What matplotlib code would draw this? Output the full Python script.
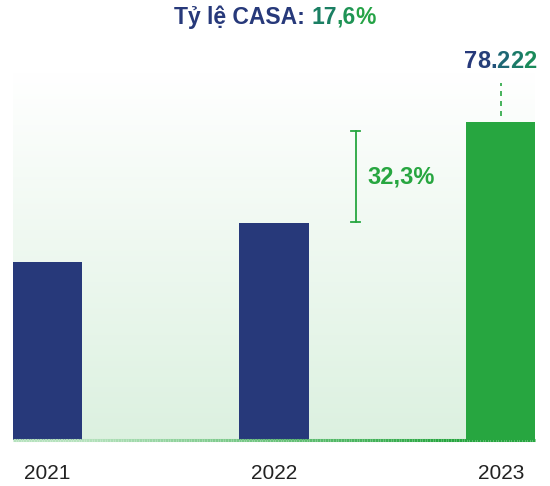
import numpy as np
import matplotlib.pyplot as plt
from matplotlib.colors import LinearSegmentedColormap, to_rgb
from matplotlib.collections import LineCollection
from matplotlib.offsetbox import TextArea, HPacker, AnchoredOffsetbox

years = ['2021', '2022', '2023']
casa = [43800, 53400, 78222]   # ty dong
bar_colors = ['#27397a', '#27397a', '#27a640']
growth_label = '32,3%'
total_label = '78.222'

navy = '#27397a'
green = '#27a640'

fig = plt.figure(figsize=(5.5, 4.86), dpi=100)
ax = fig.add_axes([13 / 550, 46 / 486, 522 / 550, 368 / 486])
ax.set_xlim(-0.15, 2.15)
ax.set_ylim(0, 90500)

# soft green gradient background (white at top)
cmap = LinearSegmentedColormap.from_list('bg', ['#ffffff', '#dcf1e0'])
grad = np.linspace(0, 1, 256).reshape(-1, 1)
ax.imshow(grad, cmap=cmap, aspect='auto', extent=(-0.15, 2.15, 0, 90500),
          zorder=0)

x = np.arange(len(years))
ax.bar(x, casa, width=0.305, color=bar_colors, zorder=2)

# baseline with gradient
xs = np.linspace(-0.15, 2.15, 200)
segs = [[(xs[i], 0), (xs[i + 1], 0)] for i in range(len(xs) - 1)]
c0, c1 = np.array(to_rgb('#b5e2bd')), np.array(to_rgb(green))
t = np.clip((xs[:-1] - 0.15) / 1.6, 0, 1)
cols = [tuple(c0 + (c1 - c0) * v) for v in t]
lc = LineCollection(segs, colors=cols, linewidths=2.2, zorder=3, clip_on=False)
ax.add_collection(lc)

# growth bracket between 2022 and 2023
bx = 1.36
ax.plot([bx, bx], [casa[1] + 200, casa[2] - 2300], color=green, lw=1.3, zorder=3)
for yv in [casa[1] + 200, casa[2] - 2300]:
    ax.plot([bx - 0.02, bx + 0.02], [yv, yv], color=green, lw=1.3, zorder=3)
ax.text(bx + 0.05, (casa[1] + casa[2]) / 2 - 1200, growth_label, color=green,
        fontsize=17, fontweight='bold', va='center', ha='left',
        family='Liberation Sans')

# dashed leader above 2023
ax.plot([2, 2], [casa[2] + 1500, casa[2] + 9500], color=green, lw=1.2,
        ls=(0, (3, 3)), zorder=3, clip_on=False)

for s in ax.spines.values():
    s.set_visible(False)
ax.set_yticks([])
ax.set_xticks(x)
ax.set_xticklabels(years, fontsize=15, color='#222222', family='Liberation Sans')
ax.tick_params(axis='x', length=0, pad=17)


def colored_text(parts, size, loc_xy):
    boxes = [TextArea(s, textprops=dict(color=c, fontsize=size, fontweight='bold',
                                        family='Liberation Sans'))
             for s, c in parts]
    pack = HPacker(children=boxes, pad=0, sep=0, align='baseline')
    ab = AnchoredOffsetbox(loc='center', child=pack, frameon=False,
                           bbox_to_anchor=loc_xy, bbox_transform=fig.transFigure,
                           pad=0, borderpad=0)
    fig.add_artist(ab)


title_parts = [('Tỷ lệ CASA: ', navy), ('17', '#1b7f63'), (',6', '#1f9355'),
               ('%', '#25a346')]
colored_text(title_parts, 16.5, (275 / 550, 1 - 17 / 486))

num_colors = ['#26397a', '#263f79', '#22527a', '#1d6774', '#1b7a68', '#1a8a5a']
colored_text(list(zip(total_label, num_colors)), 17, (500 / 550, 1 - 61 / 486))

fig.savefig('out.png', dpi=100)
